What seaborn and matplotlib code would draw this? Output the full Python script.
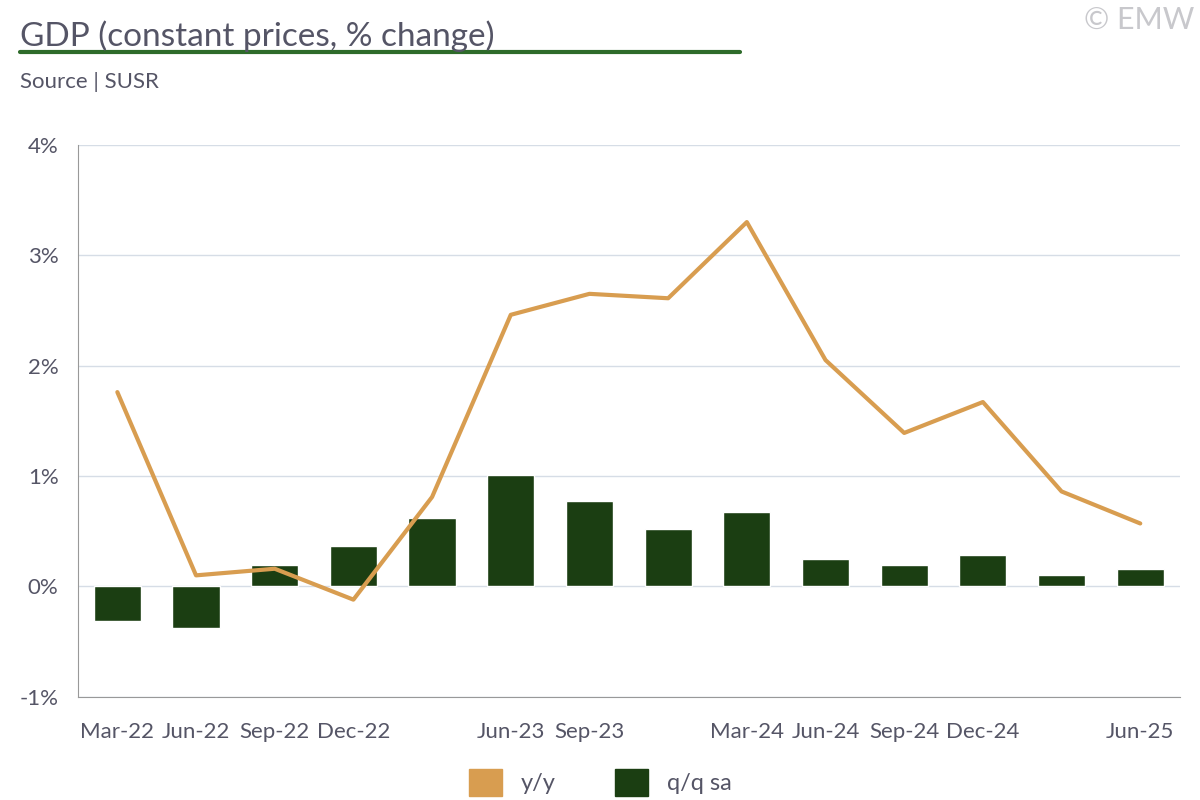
import matplotlib
matplotlib.use("Agg")
import matplotlib.pyplot as plt
import seaborn as sns
import pandas as pd
import numpy as np
from matplotlib.patches import Patch

quarters = ["Mar-22","Jun-22","Sep-22","Dec-22","Mar-23","Jun-23","Sep-23","Dec-23",
            "Mar-24","Jun-24","Sep-24","Dec-24","Mar-25","Jun-25"]
tick_labels = ["Mar-22","Jun-22","Sep-22","Dec-22","","Jun-23","Sep-23","",
               "Mar-24","Jun-24","Sep-24","Dec-24","","Jun-25"]
qq_sa = [-0.31,-0.38,0.19,0.37,0.62,1.01,0.77,0.52,0.67,0.25,0.19,0.28,0.10,0.16]
yy = [1.76,0.10,0.16,-0.12,0.81,2.46,2.65,2.61,3.30,2.05,1.39,1.67,0.86,0.57]

sns.set_style("white")
plt.rcParams['font.family'] = ['Lato', 'DejaVu Sans']

fig = plt.figure(figsize=(12, 8), dpi=100)
ax = fig.add_axes([0.065, 0.129, 0.918, 0.69])

df = pd.DataFrame({"q": quarters, "qq": qq_sa, "yy": yy, "x": np.arange(len(quarters))})
sns.barplot(data=df, x="q", y="qq", color="#1b3e12", width=0.6, ax=ax, saturation=1)
sns.lineplot(data=df, x="x", y="yy", color="#d89d50", linewidth=3, ax=ax)

ax.set_ylim(-1, 4)
ax.set_xlim(-0.5, len(quarters) - 0.5)
ax.set_yticks([-1, 0, 1, 2, 3, 4])
ax.set_yticklabels([f"{v}%" for v in [-1, 0, 1, 2, 3, 4]], color="#555566", fontsize=16)
ax.yaxis.grid(True, color="#d6dde6", linewidth=1)
ax.set_axisbelow(True)
ax.set_xticks(np.arange(len(quarters)))
ax.set_xticklabels(tick_labels, color="#555566", fontsize=16)
ax.tick_params(axis="x", length=0, pad=18)
ax.set_xticks(np.arange(len(quarters) + 1) - 0.5, minor=True)
ax.tick_params(axis="x", which="minor", length=14, color="#999999", direction="in")
ax.tick_params(axis="y", length=8, color="#999999", pad=6)
ax.set_xlabel(""); ax.set_ylabel("")
for s in ["top", "right"]:
    ax.spines[s].set_visible(False)
for s in ["left", "bottom"]:
    ax.spines[s].set_color("#999999")
# bottom minor ticks pointing up from bottom spine
ax.xaxis.set_tick_params(which="minor", direction="in")

fig.text(0.017, 0.955, "GDP (constant prices, % change)", fontsize=24, color="#555566", va="center")
fig.text(0.995, 0.975, "© EMW", fontsize=22, color="#c8c8cc", ha="right", va="center")
fig.add_artist(plt.Line2D([0.017, 0.617], [0.935, 0.935], color="#2e6b2a", linewidth=3))
fig.text(0.017, 0.898, "Source | SUSR", fontsize=16, color="#555566", va="center")

handles = [Patch(color="#d89d50", label="y/y"), Patch(color="#1b3e12", label="q/q sa")]
fig.legend(handles=handles, loc="center", bbox_to_anchor=(0.5, 0.022), ncol=2, frameon=False,
           fontsize=17, handlelength=1.4, handleheight=1.4, columnspacing=2.5,
           labelcolor="#555566")

fig.savefig("out.png", dpi=100)
